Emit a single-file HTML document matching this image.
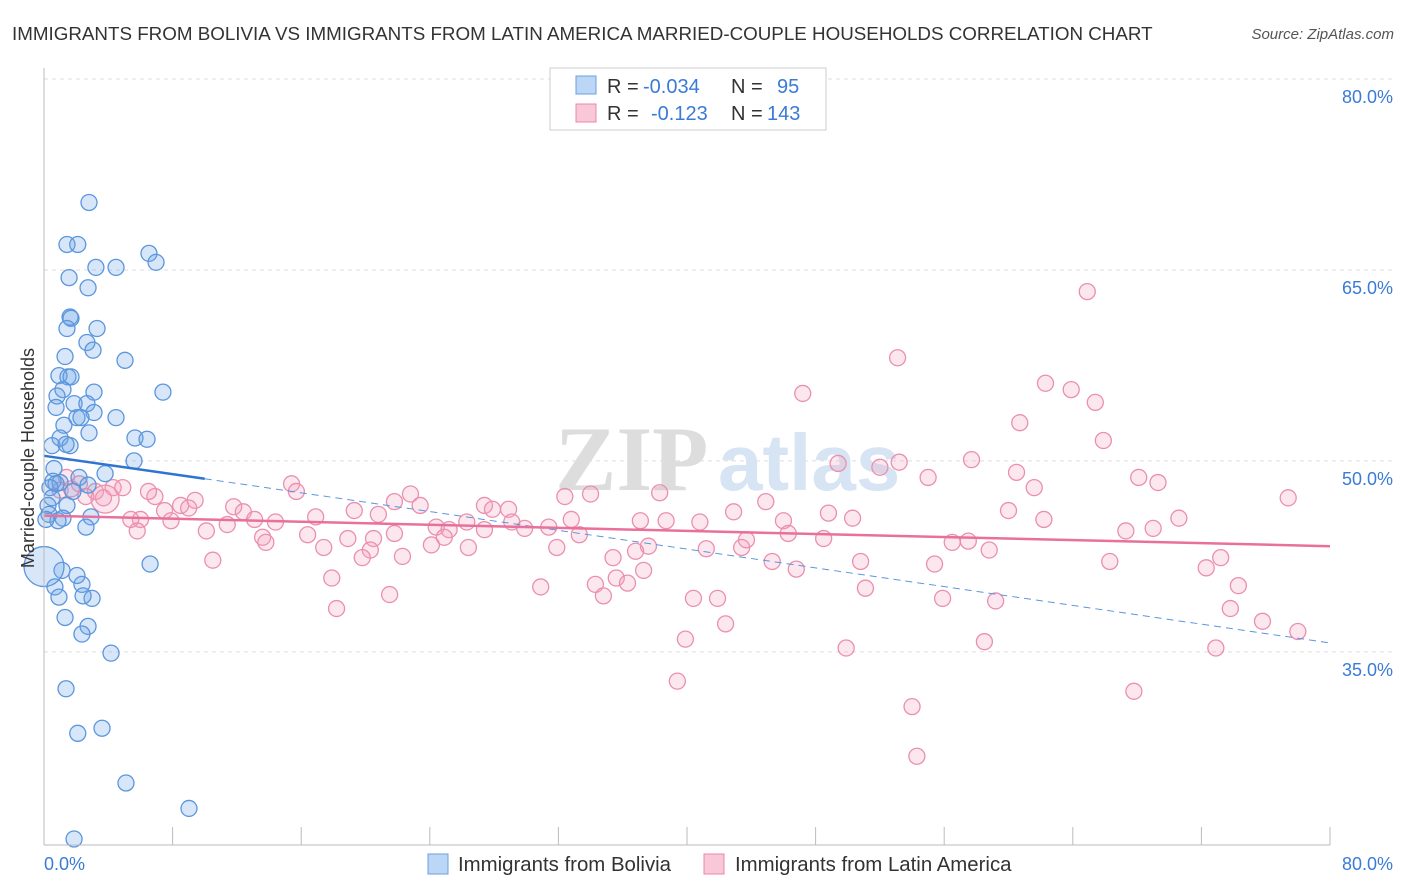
<!DOCTYPE html>
<html><head><meta charset="utf-8"><style>
body{margin:0;background:#fff;font-family:"Liberation Sans",sans-serif;}
svg{display:block}
</style></head><body>
<svg width="1406" height="892" xmlns="http://www.w3.org/2000/svg">
<text x="12" y="40" font-size="18.8" fill="#333">IMMIGRANTS FROM BOLIVIA VS IMMIGRANTS FROM LATIN AMERICA MARRIED-COUPLE HOUSEHOLDS CORRELATION CHART</text>
<text x="1394" y="39" font-size="15" fill="#555" font-style="italic" text-anchor="end">Source: ZipAtlas.com</text>
<g id="grid"></g>
<g><text x="555" y="490" font-size="92" font-family="Liberation Serif" fill="#ddd" font-weight="bold">ZIP</text><text x="718" y="490" font-size="80" fill="#d6e4f3" font-weight="bold">atlas</text></g>
<g id="pts"></g>
<g id="trend"></g>
<g id="axes"></g>
<text transform="translate(34,458) rotate(-90)" font-size="18" fill="#333" text-anchor="middle">Married-couple Households</text>
<g>
<rect x="550" y="68" width="276" height="62" fill="#fff" stroke="#ccc"/>
<rect x="576" y="76" width="20" height="18" fill="#bcd6f5" stroke="#6aa0e0"/>
<text x="607" y="93" font-size="20" fill="#333">R =</text>
<text x="643" y="93" font-size="20" fill="#3a7bd5">-0.034</text>
<text x="731" y="93" font-size="20" fill="#333">N =</text>
<text x="777" y="93" font-size="20" fill="#3a7bd5">95</text>
<rect x="576" y="104" width="20" height="18" fill="#f8c8d8" stroke="#e88aa8"/>
<text x="607" y="120" font-size="20" fill="#333">R =</text>
<text x="651" y="120" font-size="20" fill="#3a7bd5">-0.123</text>
<text x="731" y="120" font-size="20" fill="#333">N =</text>
<text x="767" y="120" font-size="20" fill="#3a7bd5">143</text>
</g>
<g>
<rect x="428" y="854" width="20" height="20" fill="#bcd6f5" stroke="#6aa0e0"/>
<text x="458" y="871" font-size="20.4" fill="#333">Immigrants from Bolivia</text>
<rect x="704" y="854" width="20" height="20" fill="#f8c8d8" stroke="#e88aa8"/>
<text x="735" y="871" font-size="20.4" fill="#333">Immigrants from Latin America</text>
</g>
</svg>
<script>
const yTicks=[35,50,65,80];
const yTickLabels=["35.0%","50.0%","65.0%","80.0%"];
const xTicks=[0,8,16,24,32,40,48,56,64,72,80];
const blueX=[2.8,1.43,2.1,1.56,3.23,4.48,2.74,6.53,6.97,1.62,1.68,3.3,1.43,2.67,3.05,1.31,5.04,0.93,1.49,1.68,3.11,7.4,1.18,0.81,1.87,2.67,0.75,3.11,2.05,4.48,2.3,1.24,2.8,1.0,5.66,6.41,0.5,1.62,1.37,5.6,0.62,3.8,2.18,0.56,1.0,0.75,2.74,0.37,1.8,0.5,1.43,0.25,0.31,2.92,1.18,2.61,0.87,0.12,6.6,1.12,2.05,0.68,2.36,0.93,2.99,2.43,1.31,2.74,2.36,4.17,1.37,3.61,2.1,5.1,9.02,1.87,0];
const blueY=[70.3,67.0,67.0,64.4,65.2,65.2,63.6,66.3,65.6,61.3,61.2,60.4,60.4,59.3,58.7,58.2,57.9,56.7,56.6,56.6,55.4,55.4,55.6,55.1,54.5,54.5,54.2,53.8,53.4,53.4,53.4,52.8,52.2,51.8,51.8,51.7,51.2,51.2,51.3,50.0,49.4,49.0,48.7,48.4,48.3,48.2,48.1,47.9,47.6,47.1,46.5,46.5,45.8,45.6,45.5,44.8,45.3,45.4,41.9,41.4,41.0,40.1,40.3,39.3,39.2,39.4,37.7,37.0,36.4,34.9,32.1,29.0,28.6,24.7,22.7,20.3,41.7];
const pinkX=[64.9,53.1,62.3,63.9,47.2,65.4,60.7,65.9,49.4,52.0,53.2,57.7,60.5,55.0,68.1,69.3,61.6,77.4,38.3,34.0,32.4,22.8,15.4,15.7,6.9,9.4,8.5,7.5,9.0,11.8,12.4,13.1,14.4,16.9,19.3,20.8,21.8,23.4,24.4,25.2,27.4,27.9,28.9,29.1,29.9,31.4,33.3,32.8,37.1,38.7,40.8,42.9,44.9,46.0,46.3,48.8,50.3,43.7,48.5,43.4,41.2,37.6,36.8,31.9,24.1,26.4,27.4,26.3,24.9,20.5,18.9,17.4,20.3,21.8,22.3,19.8,13.6,13.8,16.4,10.5,11.4,6.0,5.4,7.9,10.1,5.8,35.4,35.6,34.3,36.3,37.3,30.9,34.8,17.9,18.2,21.5,40.4,41.9,42.4,39.9,39.4,45.3,46.8,50.8,51.1,55.4,56.5,57.5,58.8,60.0,62.2,67.3,69.0,70.6,66.3,72.3,73.2,74.3,73.8,75.8,78.0,72.9,58.5,55.9,59.2,49.9,54.0,54.3,67.8,1.4,2.2,3.2,4.3,4.9,3.7,2.6,1.0,1.7,6.5,3.8];
const pinkY=[63.3,58.1,56.1,55.6,55.3,54.6,53.0,51.6,49.8,49.5,49.9,50.1,49.1,48.7,48.7,48.3,47.9,47.1,47.5,47.4,47.2,47.4,48.2,47.6,47.2,46.9,46.5,46.1,46.3,46.4,46.0,45.4,45.2,45.6,46.1,45.8,46.8,46.5,44.8,44.6,46.5,46.2,46.2,45.2,44.7,44.8,44.2,45.4,45.3,45.3,45.2,46.0,46.8,45.3,44.3,45.9,45.5,43.8,43.9,43.2,43.1,43.3,42.9,43.2,43.4,43.2,44.6,45.2,44.0,43.9,43.9,43.2,43.0,44.3,42.5,42.4,44.0,43.6,44.2,42.2,45.0,45.4,45.4,45.3,44.5,44.5,42.4,40.8,40.3,40.4,41.4,40.1,39.4,40.8,38.4,39.5,39.2,39.2,37.2,36.0,32.7,42.1,41.5,42.1,40.0,41.9,43.6,43.7,43.0,46.1,45.4,44.5,44.7,45.5,42.1,41.6,42.4,40.2,38.4,37.4,36.6,35.3,35.8,39.2,39.0,35.3,30.7,26.8,31.9,48.7,48.2,47.6,47.9,47.9,47.1,47.2,47.7,47.8,47.6,47.0];
const blueTrendX=[0,10,80];
const blueTrendY=[50.4,48.6,35.7];
const pinkTrendX=[0,80];
const pinkTrendY=[45.7,43.3];
const NS="http://www.w3.org/2000/svg";
const sx=v=>44+v*16.075, sy=v=>79+(80-v)*12.73;
function mk(t,a,p){const e=document.createElementNS(NS,t);for(const k in a)e.setAttribute(k,a[k]);p.appendChild(e);return e;}
const grid=document.getElementById('grid'),axes=document.getElementById('axes'),pts=document.getElementById('pts'),tr=document.getElementById('trend');
yTicks.forEach((v,i)=>{
 const l=mk('line',{x1:44,x2:1394,y1:sy(v),y2:sy(v),stroke:'#ddd','stroke-dasharray':'4,4'},grid);
 
 
 const t=mk('text',{x:1393,y:sy(v)+24,'font-size':18,fill:'#3a7bd5','text-anchor':'end'},axes);
 t.textContent=yTickLabels[i];
 
 
});
mk('line',{x1:44,x2:44,y1:68,y2:845,stroke:'#bbb'},axes);
mk('line',{x1:44,x2:1330,y1:845,y2:845,stroke:'#bbb'},axes);
xTicks.forEach(v=>{const l=mk('line',{x1:sx(v),x2:sx(v),y1:827,y2:845,stroke:'#bbb'},axes);
 
 });
const x0=mk('text',{x:44,y:870,'font-size':18,fill:'#3a7bd5'},axes);x0.textContent='0.0%';


const x1=mk('text',{x:1393,y:870,'font-size':18,fill:'#3a7bd5','text-anchor':'end'},axes);x1.textContent='80.0%';


pinkX.forEach((v,i)=>{const c=mk('circle',{cx:sx(v),cy:sy(pinkY[i]),r:(i==pinkX.length-1?14:8),fill:'rgba(244,160,188,0.25)',stroke:'#eb8fae','stroke-width':1.3},pts);
 
 });
blueX.forEach((v,i)=>{const c=mk('circle',{cx:sx(v),cy:sy(blueY[i]),r:(i==blueX.length-1?20:8),fill:'rgba(110,165,230,0.28)',stroke:'#5b96dd','stroke-width':1.3},pts);
 
 });
const bs=mk('line',{x1:sx(blueTrendX[0]),y1:sy(blueTrendY[0]),x2:sx(blueTrendX[1]),y2:sy(blueTrendY[1]),stroke:'#2f74d0','stroke-width':2.5},tr);


const bd=mk('line',{x1:sx(blueTrendX[1]),y1:sy(blueTrendY[1]),x2:sx(blueTrendX[2]),y2:sy(blueTrendY[2]),stroke:'#5b96dd','stroke-width':1,'stroke-dasharray':'7,5'},tr);


const ps=mk('line',{x1:sx(pinkTrendX[0]),y1:sy(pinkTrendY[0]),x2:sx(pinkTrendX[1]),y2:sy(pinkTrendY[1]),stroke:'#e8709a','stroke-width':2.5},tr);


</script>
</body></html>
